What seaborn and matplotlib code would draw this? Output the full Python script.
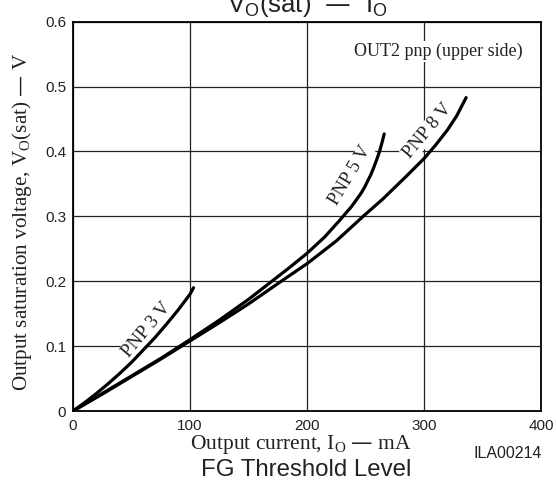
import numpy as np
import pandas as pd
import matplotlib
matplotlib.use("Agg")
import matplotlib.pyplot as plt
import seaborn as sns

# ---- data ----
x_3v = [0, 10, 20, 30, 40, 50, 60, 70, 80, 90, 100, 103]
y_3v = [0, 0.013, 0.027, 0.042, 0.058, 0.075, 0.094, 0.113, 0.134, 0.156, 0.180, 0.19]

x_5v = [0, 25, 50, 75, 100, 125, 150, 170, 185, 200, 215, 228, 238, 242, 246, 249, 252,
        254.5, 257, 259.5, 262, 264, 266]
y_5v = [0, 0.027, 0.054, 0.081, 0.11, 0.14, 0.172, 0.2, 0.221, 0.243, 0.268, 0.294, 0.315,
        0.325, 0.335, 0.344, 0.355, 0.364, 0.375, 0.387, 0.40, 0.413, 0.427]

x_8v = [0, 25, 50, 75, 100, 125, 150, 178, 200, 225, 248, 265, 285, 300, 310, 320, 328, 336]
y_8v = [0, 0.026, 0.053, 0.08, 0.108, 0.136, 0.165, 0.2, 0.227, 0.262, 0.3, 0.327, 0.362,
        0.389, 0.41, 0.433, 0.455, 0.483]

series_names = ["PNP 3 V", "PNP 5 V", "PNP 8 V"]
x_ticks = [0, 100, 200, 300, 400]
y_ticks = [0, 0.1, 0.2, 0.3, 0.4, 0.5, 0.6]
y_tick_labels = ["0", "0.1", "0.2", "0.3", "0.4", "0.5", "0.6"]

df = pd.concat([
    pd.DataFrame({"I": x_3v, "V": y_3v, "s": series_names[0]}),
    pd.DataFrame({"I": x_5v, "V": y_5v, "s": series_names[1]}),
    pd.DataFrame({"I": x_8v, "V": y_8v, "s": series_names[2]}),
], ignore_index=True)

sns.set_theme(style="white")
plt.rcParams["font.family"] = ["Liberation Sans", "DejaVu Sans"]

fig = plt.figure(figsize=(5.56, 4.82), dpi=100)
ax = fig.add_axes([0.1313, 0.1473, 0.8417, 0.8077])

sns.lineplot(data=df, x="I", y="V", hue="s", units="s", estimator=None, sort=False,
             palette={n: "black" for n in series_names}, linewidth=2.3, legend=False,
             ax=ax, zorder=3)

ax.set_xlim(0, 400)
ax.set_ylim(0, 0.6)
ax.set_xticks(x_ticks)
ax.set_yticks(y_ticks)
ax.set_yticklabels(y_tick_labels)
ax.grid(True, color="#222222", linewidth=0.9)
ax.set_axisbelow(True)
for sp in ax.spines.values():
    sp.set_color("black")
    sp.set_linewidth(1.3)
ax.tick_params(axis="both", length=0, labelsize=11, colors="#222222")
ax.tick_params(axis="x", pad=5.5)
ax.tick_params(axis="y", pad=5)
ax.set_xlabel("")
ax.set_ylabel("")

serif = ["Liberation Serif", "DejaVu Serif"]
fig.text(307 / 556, 1 - 12 / 482, r"$\mathregular{V_O(sat)}$  —  $\mathregular{I_O}$",
         ha="center", va="baseline", fontsize=18.5, color="#222222")

ax.text(312, 0.554, "OUT2 pnp (upper side)", ha="center", va="center",
        fontsize=13, family=serif, color="#222222",
        bbox=dict(facecolor="white", edgecolor="none", pad=1.5), zorder=4)

bb = dict(facecolor="white", edgecolor="none", pad=0.5)
ax.text(63, 0.125, "PNP 3 V", rotation=50, ha="center", va="center", fontsize=13.5,
        family=serif, color="#222222", bbox=bb, zorder=2.5, rotation_mode="anchor")
ax.text(237, 0.363, "PNP 5 V", rotation=59, ha="center", va="center", fontsize=13.5,
        family=serif, color="#222222", bbox=bb, zorder=2.5, rotation_mode="anchor")
ax.text(303, 0.431, "PNP 8 V", rotation=50, ha="center", va="center", fontsize=13.5,
        family=serif, color="#222222", bbox=bb, zorder=2.5, rotation_mode="anchor")

fig.text(22 / 556, 1 - 222 / 482, r"Output saturation voltage, $\mathregular{V_O(sat)}$ — V",
         rotation=90, ha="center", va="center", fontsize=15.2, family=serif, color="#222222")
fig.text(301 / 556, 1 - 445 / 482, r"Output current, $\mathregular{I_O}$ — mA",
         ha="center", va="center", fontsize=15.5, family=serif, color="#222222")
fig.text(508 / 556, 1 - 454 / 482, "ILA00214", ha="center", va="center", fontsize=11.5,
         color="#222222")
fig.text(306 / 556, 1 - 470 / 482, "FG Threshold Level", ha="center", va="center",
         fontsize=17.3, color="#222222")

fig.savefig("out.png", dpi=100)
